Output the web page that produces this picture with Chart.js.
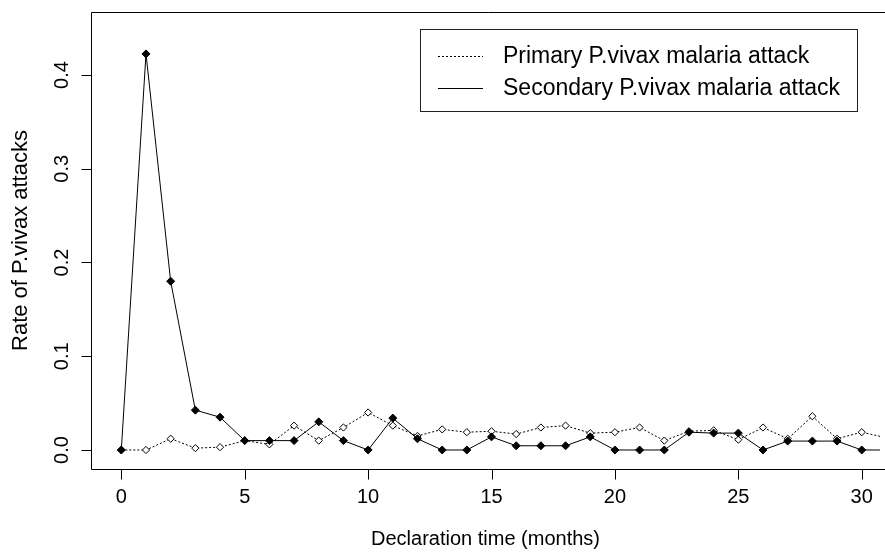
<!DOCTYPE html>
<html>
<head>
<meta charset="utf-8">
<script src="https://cdn.jsdelivr.net/npm/chart.js@4/dist/chart.umd.min.js"></script>
<style>
  html, body { margin: 0; padding: 0; background: #ffffff; }
  #wrap { width: 885px; height: 552px; position: relative; }
</style>
</head>
<body>
<div id="wrap"><canvas id="c" width="885" height="552"></canvas></div>
<script>
// ---- data ----
const months = [0,1,2,3,4,5,6,7,8,9,10,11,12,13,14,15,16,17,18,19,20,21,22,23,24,25,26,27,28,29,30,31];
const primaryRate = [0, 0, 0.012, 0.002, 0.003, 0.01, 0.006, 0.026, 0.01, 0.024, 0.04, 0.026, 0.015, 0.022, 0.019, 0.02, 0.017, 0.024, 0.026, 0.018, 0.019, 0.024, 0.01, 0.02, 0.021, 0.011, 0.024, 0.012, 0.036, 0.012, 0.019, 0.013];
const secondaryRate = [0, 0.4225, 0.18, 0.0425, 0.035, 0.01, 0.01, 0.01, 0.03, 0.01, 0, 0.034, 0.012, 0, 0, 0.014, 0.0045, 0.0045, 0.0045, 0.014, 0, 0, 0, 0.019, 0.018, 0.018, 0, 0.0095, 0.0095, 0.0095, 0, 0];
const xTicks = [0, 5, 10, 15, 20, 25, 30];
const yTicks = [0, 0.1, 0.2, 0.3, 0.4];
const seriesLabels = ["Primary P.vivax malaria attack", "Secondary P.vivax malaria attack"];
const xTitle = "Declaration time (months)";
const yTitle = "Rate of P.vivax attacks";

const FONT = "'Liberation Sans', Arial, Helvetica, sans-serif";
Chart.defaults.font.family = FONT;
Chart.defaults.color = '#000';

const toPoints = (ys) => months.map((m, i) => ({x: m, y: ys[i]}));

const boxAndLabels = {
  id: 'boxAndLabels',
  afterDraw(chart) {
    const {ctx, chartArea} = chart;
    const xs = chart.scales.x, ys = chart.scales.y;
    ctx.save();
    ctx.setLineDash([]);
    // plot box (right side lies beyond the canvas)
    ctx.strokeStyle = '#000';
    ctx.lineWidth = 1;
    ctx.beginPath();
    const L = Math.round(chartArea.left) + 0.5, T = Math.round(chartArea.top) + 0.5, B = Math.round(chartArea.bottom) + 0.5;
    ctx.moveTo(chartArea.right + 5, T);
    ctx.lineTo(L, T);
    ctx.lineTo(L, B);
    ctx.lineTo(chartArea.right + 5, B);
    ctx.stroke();
    // tick marks
    ctx.beginPath();
    xTicks.forEach(v => {
      const px = Math.round(xs.getPixelForValue(v)) + 0.5;
      ctx.moveTo(px, B);
      ctx.lineTo(px, B + 10);
    });
    yTicks.forEach(v => {
      const py = Math.round(ys.getPixelForValue(v)) + 0.5;
      ctx.moveTo(L, py);
      ctx.lineTo(L - 10, py);
    });
    ctx.stroke();
    // tick labels
    ctx.fillStyle = '#000';
    ctx.font = '20px ' + FONT;
    ctx.textAlign = 'center';
    ctx.textBaseline = 'middle';
    xTicks.forEach(v => {
      ctx.fillText(String(v), xs.getPixelForValue(v), 497);
    });
    yTicks.forEach(v => {
      const py = ys.getPixelForValue(v);
      ctx.save();
      ctx.translate(62, py);
      ctx.rotate(-Math.PI / 2);
      ctx.fillText(v.toFixed(1), 0, 0);
      ctx.restore();
    });
    // legend
    const lx = 420.5, ly = 29.5, lw = 437, lh = 82;
    ctx.fillStyle = '#fff';
    ctx.fillRect(lx, ly, lw, lh);
    ctx.strokeStyle = '#222';
    ctx.strokeRect(lx, ly, lw, lh);
    const rows = [56, 88];
    const dashes = [[2, 2], []];
    ctx.fillStyle = '#000';
    ctx.font = '23px ' + FONT;
    ctx.textAlign = 'left';
    ctx.textBaseline = 'middle';
    rows.forEach((ry, i) => {
      ctx.beginPath();
      ctx.setLineDash(dashes[i]);
      ctx.strokeStyle = '#000';
      ctx.moveTo(438, ry + 0.5);
      ctx.lineTo(483, ry + 0.5);
      ctx.stroke();
      ctx.setLineDash([]);
      ctx.fillText(seriesLabels[i], 503, ry + 1);
    });
    ctx.restore();
  }
};

new Chart(document.getElementById('c'), {
  type: 'line',
  data: {
    datasets: [
      {
        label: seriesLabels[1],
        data: toPoints(secondaryRate),
        borderColor: '#000',
        borderWidth: 1,
        backgroundColor: '#000',
        pointStyle: 'rectRot',
        pointRadius: 4,
        pointBorderWidth: 1,
        pointBackgroundColor: '#000',
        pointBorderColor: '#000',
        tension: 0
      },
      {
        label: seriesLabels[0],
        data: toPoints(primaryRate),
        borderColor: '#000',
        borderWidth: 1,
        borderDash: [2, 2],
        pointStyle: 'rectRot',
        pointRadius: 3.6,
        pointBorderWidth: 1,
        pointBackgroundColor: '#fff',
        pointBorderColor: '#000',
        tension: 0
      }
    ]
  },
  options: {
    responsive: false,
    animation: false,
    devicePixelRatio: 1,
    layout: { padding: { top: 12, right: 0, left: 0, bottom: 0 } },
    plugins: { legend: { display: false }, tooltip: { enabled: false } },
    scales: {
      x: {
        type: 'linear',
        min: -1.228,
        max: 30.74,
        afterBuildTicks: (s) => { s.ticks = xTicks.map(v => ({value: v})); },
        afterFit: (s) => { s.height = 83; },
        border: { display: false },
        grid: { display: false },
        ticks: { display: false },
        title: { display: true, text: xTitle, font: { size: 20, lineHeight: 1 }, color: '#000', padding: { bottom: 3, top: 0 } }
      },
      y: {
        type: 'linear',
        min: -0.02027,
        max: 0.4672,
        afterBuildTicks: (s) => { s.ticks = yTicks.map(v => ({value: v})); },
        afterFit: (s) => { s.width = 91; },
        border: { display: false },
        grid: { display: false },
        ticks: { display: false },
        title: { display: true, text: yTitle, font: { size: 22, lineHeight: 1 }, color: '#000', padding: { top: 10, bottom: 0 } }
      }
    }
  },
  plugins: [boxAndLabels]
});
</script>
</body>
</html>
